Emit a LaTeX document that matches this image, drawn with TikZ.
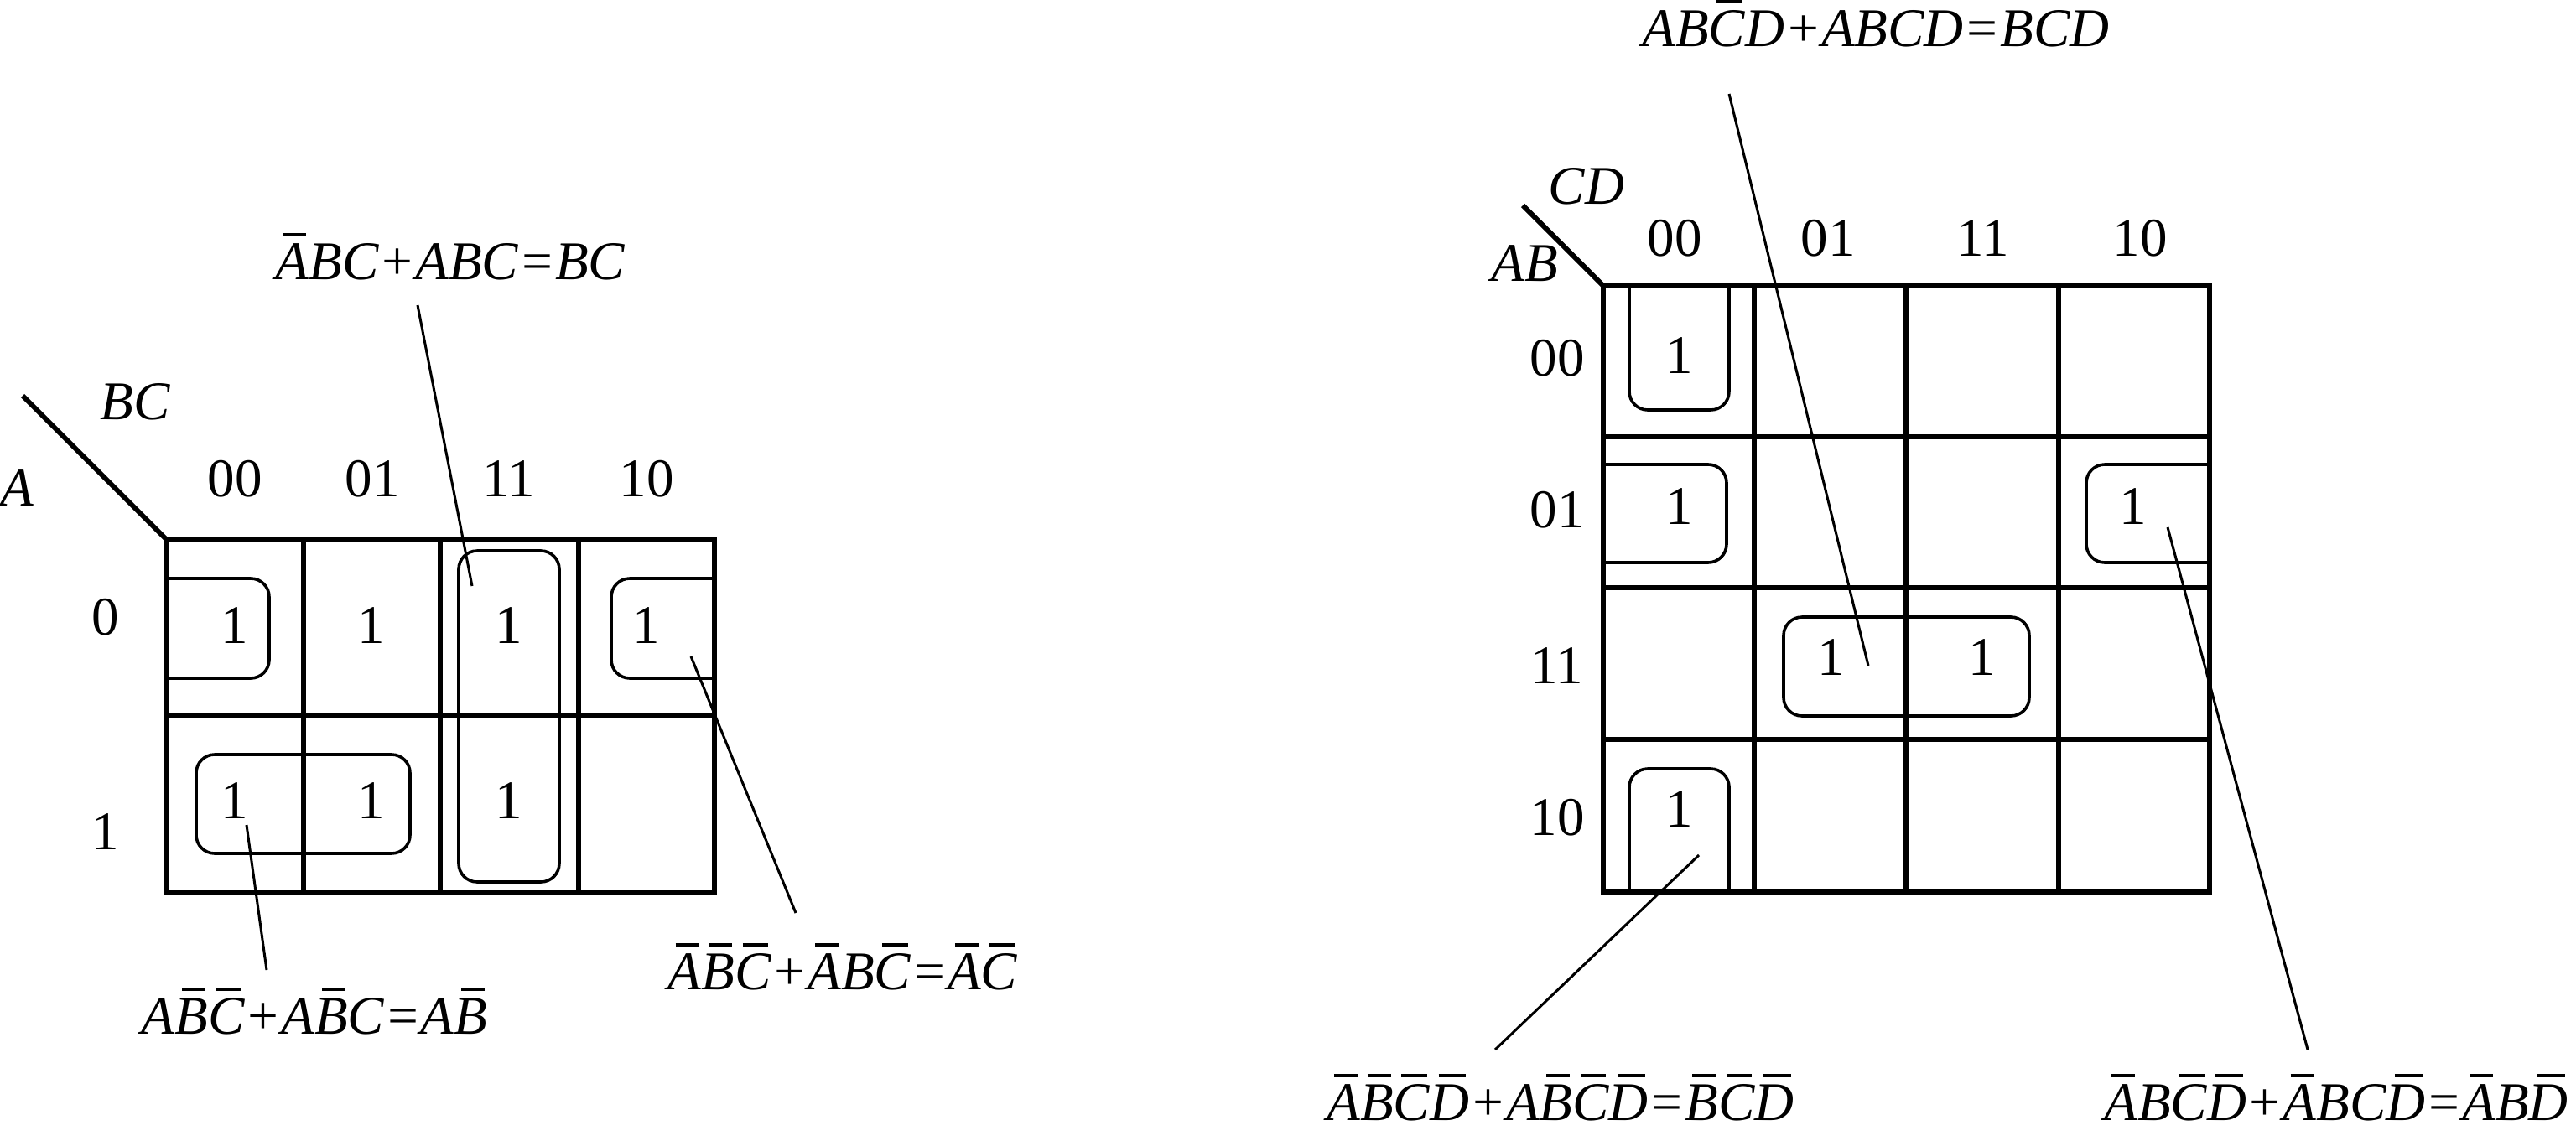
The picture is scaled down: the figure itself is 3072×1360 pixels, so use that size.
\documentclass[tikz,border=0pt]{standalone}
\usepackage{fontspec}
\setmainfont{Liberation Serif}
\newcommand\ov[1]{\setbox0=\hbox{#1}\rlap{\hskip0.22\wd0\rule[0.78em]{0.7\wd0}{0.07em}}\box0}
\begin{document}
\begin{tikzpicture}[x=0.25pt,y=-0.25pt,
  grid/.style={line width=1.5pt},
  kloop/.style={line width=0.9pt, rounded corners=5.5pt},
  lead/.style={line width=0.75pt},
  lbl/.style={inner sep=0pt, anchor=base, font=\fontsize{16.25}{19}\selectfont},
  itl/.style={lbl, font=\fontsize{16.25}{19}\selectfont\itshape}]
\useasboundingbox (0,0) rectangle (3072,1360);

% ---------- left map ----------
\coordinate (lcorner) at (198,643);
\coordinate (ldiag) at (27,472);
\draw[grid] (ldiag) -- (lcorner);
\draw[grid] (lcorner) rectangle (852,1065);
\foreach \x in {362,525,690} \draw[grid] (\x,643) -- (\x,1065);
\draw[grid] (198,854) -- (852,854);

\node[itl] (lBC) at (161,500) {BC};
\node[itl] (lA) at (20,603) {A};
\node[lbl] (lc00) at (280,592) {00};
\node[lbl] (lc01) at (444,592) {01};
\node[lbl] (lc11) at (607,592) {11};
\node[lbl] (lc10) at (771,592) {10};
\node[lbl] (lr0) at (126,757) {0};
\node[lbl] (lr1) at (126,1013) {1};

\node[lbl] (l00) at (280,767) {1};
\node[lbl] (l01) at (443,767) {1};
\node[lbl] (l02) at (607,767) {1};
\node[lbl] (l03) at (771,767) {1};
\node[lbl] (l10) at (280,976) {1};
\node[lbl] (l11) at (443,976) {1};
\node[lbl] (l12) at (607,976) {1};

\draw[kloop] (198,690) -- (321,690) -- (321,809) -- (198,809);
\draw[kloop] (852,690) -- (729,690) -- (729,809) -- (852,809);
\draw[kloop] (234,900) rectangle (489,1018);
\draw[kloop] (547,657) rectangle (667,1052);

\node[itl] (lt1) at (537,333) {\ov{A}BC+ABC=BC};
\node[itl] (lb1) at (375,1233) {A\ov{B}\ov{C}+A\ov{B}C=A\ov{B}};
\node[itl] (lb2) at (1005,1180) {\ov{A}\ov{B}\ov{C}+\ov{A}B\ov{C}=\ov{A}\ov{C}};

\coordinate (la1) at (563,699);  \coordinate (la2) at (498,364);
\coordinate (lb1a) at (294,984); \coordinate (lb1b) at (318,1157);
\coordinate (lc1a) at (824,783); \coordinate (lc1b) at (949,1089);
\draw[lead] (la1) -- (la2);
\draw[lead] (lb1a) -- (lb1b);
\draw[lead] (lc1a) -- (lc1b);

% ---------- right map ----------
\coordinate (rcorner) at (1912,341);
\coordinate (rdiag) at (1816,245);
\draw[grid] (rdiag) -- (rcorner);
\draw[grid] (rcorner) rectangle (2635,1064);
\foreach \x in {2092,2273,2455} \draw[grid] (\x,341) -- (\x,1064);
\foreach \y in {521,701,882} \draw[grid] (1912,\y) -- (2635,\y);

\node[itl] (rCD) at (1892,243) {CD};
\node[itl] (rAB) at (1818,335) {AB};
\node[lbl] (rc00) at (1997,305) {00};
\node[lbl] (rc01) at (2180,305) {01};
\node[lbl] (rc11) at (2365,305) {11};
\node[lbl] (rc10) at (2552,305) {10};
\node[lbl] (rr00) at (1857,448) {00};
\node[lbl] (rr01) at (1857,629) {01};
\node[lbl] (rr11) at (1857,815) {11};
\node[lbl] (rr10) at (1857,996) {10};

\node[lbl] (r1) at (2003,445) {1};
\node[lbl] (r2) at (2003,625) {1};
\node[lbl] (r3) at (2184,805) {1};
\node[lbl] (r4) at (2364,805) {1};
\node[lbl] (r5) at (2544,625) {1};
\node[lbl] (r6) at (2003,986) {1};

\draw[kloop] (1943,341) -- (1943,489) -- (2062,489) -- (2062,341);
\draw[kloop] (1943,1064) -- (1943,917) -- (2062,917) -- (2062,1064);
\draw[kloop] (1912,554) -- (2059,554) -- (2059,671) -- (1912,671);
\draw[kloop] (2635,554) -- (2488,554) -- (2488,671) -- (2635,671);
\draw[kloop] (2127,736) rectangle (2420,854);

\node[itl] (rt) at (2237,55) {AB\ov{C}D+ABCD=BCD};
\node[itl] (rbl) at (1861,1336) {\ov{A}\ov{B}\ov{C}\ov{D}+A\ov{B}\ov{C}\ov{D}=\ov{B}\ov{C}\ov{D}};
\node[itl] (rbr) at (2786,1336) {\ov{A}B\ov{C}\ov{D}+\ov{A}BC\ov{D}=\ov{A}B\ov{D}};

\coordinate (ra1) at (2228,794);  \coordinate (ra2) at (2062,112);
\coordinate (rb1) at (2026,1020); \coordinate (rb2) at (1783,1252);
\coordinate (rc1) at (2585,629);  \coordinate (rc2) at (2752,1252);
\draw[lead] (ra1) -- (ra2);
\draw[lead] (rb1) -- (rb2);
\draw[lead] (rc1) -- (rc2);
\end{tikzpicture}
\end{document}
